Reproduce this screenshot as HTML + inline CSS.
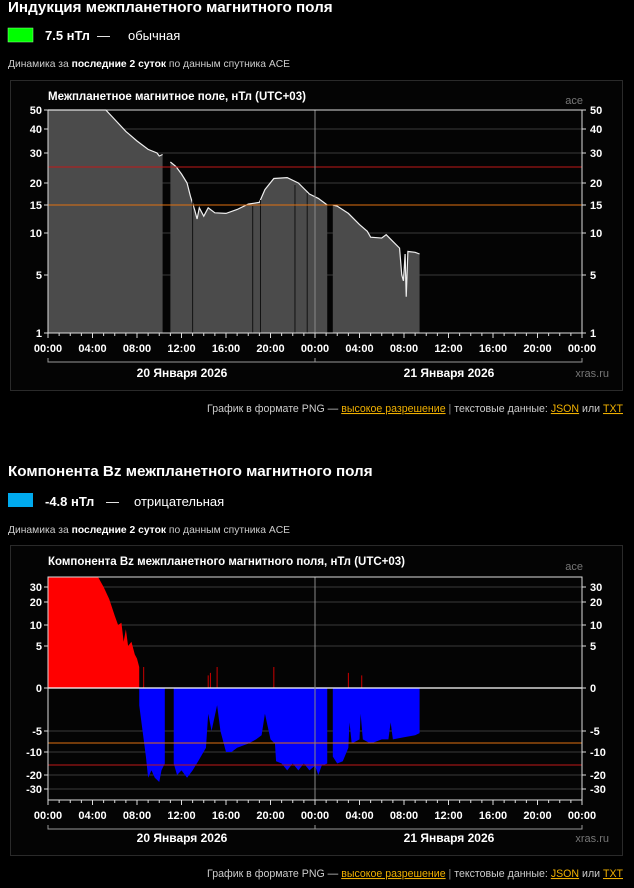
<!DOCTYPE html>
<html><head><meta charset="utf-8">
<style>
html,body{margin:0;padding:0;background:#000;width:634px;height:888px;overflow:hidden;font-family:"Liberation Sans",Arial,sans-serif;color:#fff}
svg{position:absolute;left:0;top:0}
</style></head>
<body>
<svg id="s" width="634" height="888" xmlns="http://www.w3.org/2000/svg" font-family="Liberation Sans, Arial, sans-serif">
<rect width="634" height="888" fill="#000"/>
<text x="8" y="12" font-size="15.2" font-weight="bold" fill="#fff">Индукция межпланетного магнитного поля</text>
<rect x="8" y="28" width="25" height="14" fill="#00ff00" stroke="#9f9" stroke-width="0.5"/>
<text x="45" y="40" font-size="13" font-weight="bold" fill="#fff">7.5 нТл</text>
<text x="97" y="40" font-size="13" fill="#fff">—</text>
<text x="128" y="40" font-size="13" fill="#fff">обычная</text>
<text x="8" y="67" font-size="10.3" fill="#ccc">Динамика за <tspan font-weight="bold" fill="#fff">последние 2 суток</tspan> по данным спутника ACE</text>
<rect x="10.5" y="80.5" width="612" height="310" fill="#040404" stroke="#2a2a2a"/>
<text x="48" y="100" font-size="11.5" font-weight="bold" fill="#fff">Межпланетное магнитное поле, нТл (UTC+03)</text>
<text x="583" y="104" font-size="11" fill="#777" text-anchor="end">ace</text>
<g id="c1"></g>
<text x="182" y="377" font-size="12" font-weight="bold" fill="#fff" text-anchor="middle">20 Января 2026</text>
<text x="449" y="377" font-size="12" font-weight="bold" fill="#fff" text-anchor="middle">21 Января 2026</text>
<text x="609" y="377" font-size="11" fill="#777" text-anchor="end">xras.ru</text>
<text x="623" y="412" font-size="10.6" fill="#ccc" text-anchor="end">График в формате PNG — <tspan fill="#f0b000" text-decoration="underline">высокое разрешение</tspan>   <tspan fill="#888">|</tspan>   текстовые данные: <tspan fill="#f0b000" text-decoration="underline">JSON</tspan> или <tspan fill="#f0b000" text-decoration="underline">TXT</tspan></text>

<text x="8" y="476" font-size="15.2" font-weight="bold" fill="#fff">Компонента Bz межпланетного магнитного поля</text>
<rect x="8" y="493" width="25" height="14" fill="#00aaee"/>
<text x="45" y="506" font-size="13" font-weight="bold" fill="#fff">-4.8 нТл</text>
<text x="106" y="506" font-size="13" fill="#fff">—</text>
<text x="134" y="506" font-size="13" fill="#fff">отрицательная</text>
<text x="8" y="533" font-size="10.3" fill="#ccc">Динамика за <tspan font-weight="bold" fill="#fff">последние 2 суток</tspan> по данным спутника ACE</text>
<rect x="10.5" y="545.5" width="612" height="310" fill="#040404" stroke="#2a2a2a"/>
<text x="48" y="565" font-size="11.5" font-weight="bold" fill="#fff">Компонента Bz межпланетного магнитного поля, нТл (UTC+03)</text>
<text x="583" y="570" font-size="11" fill="#777" text-anchor="end">ace</text>
<g id="c2"></g>
<text x="182" y="842" font-size="12" font-weight="bold" fill="#fff" text-anchor="middle">20 Января 2026</text>
<text x="449" y="842" font-size="12" font-weight="bold" fill="#fff" text-anchor="middle">21 Января 2026</text>
<text x="609" y="842" font-size="11" fill="#777" text-anchor="end">xras.ru</text>
<text x="623" y="877" font-size="10.6" fill="#ccc" text-anchor="end">График в формате PNG — <tspan fill="#f0b000" text-decoration="underline">высокое разрешение</tspan>   <tspan fill="#888">|</tspan>   текстовые данные: <tspan fill="#f0b000" text-decoration="underline">JSON</tspan> или <tspan fill="#f0b000" text-decoration="underline">TXT</tspan></text>

<g font-size="11" font-weight="bold" fill="#fff">
<g text-anchor="end">
<text x="42" y="114">50</text><text x="42" y="133">40</text><text x="42" y="157">30</text><text x="42" y="187">20</text><text x="42" y="209">15</text><text x="42" y="237">10</text><text x="42" y="279">5</text><text x="42" y="337">1</text>
<text x="42" y="591">30</text><text x="42" y="606">20</text><text x="42" y="629">10</text><text x="42" y="650">5</text><text x="42" y="692">0</text><text x="42" y="735">-5</text><text x="42" y="756">-10</text><text x="42" y="779">-20</text><text x="42" y="793">-30</text>
</g>
<g text-anchor="start">
<text x="590" y="114">50</text><text x="590" y="133">40</text><text x="590" y="157">30</text><text x="590" y="187">20</text><text x="590" y="209">15</text><text x="590" y="237">10</text><text x="590" y="279">5</text><text x="590" y="337">1</text>
<text x="590" y="591">30</text><text x="590" y="606">20</text><text x="590" y="629">10</text><text x="590" y="650">5</text><text x="590" y="692">0</text><text x="590" y="735">-5</text><text x="590" y="756">-10</text><text x="590" y="779">-20</text><text x="590" y="793">-30</text>
</g>
<g text-anchor="middle">
<text x="48" y="352">00:00</text><text x="92.5" y="352">04:00</text><text x="137" y="352">08:00</text><text x="181.5" y="352">12:00</text><text x="226" y="352">16:00</text><text x="270.5" y="352">20:00</text><text x="315" y="352">00:00</text><text x="359.5" y="352">04:00</text><text x="404" y="352">08:00</text><text x="448.5" y="352">12:00</text><text x="493" y="352">16:00</text><text x="537.5" y="352">20:00</text><text x="582" y="352">00:00</text>
<text x="48" y="819">00:00</text><text x="92.5" y="819">04:00</text><text x="137" y="819">08:00</text><text x="181.5" y="819">12:00</text><text x="226" y="819">16:00</text><text x="270.5" y="819">20:00</text><text x="315" y="819">00:00</text><text x="359.5" y="819">04:00</text><text x="404" y="819">08:00</text><text x="448.5" y="819">12:00</text><text x="493" y="819">16:00</text><text x="537.5" y="819">20:00</text><text x="582" y="819">00:00</text>
</g>
</g>
</svg>
<script>
var NS="http://www.w3.org/2000/svg";
function el(p,t,a){var e=document.createElementNS(NS,t);for(var k in a)e.setAttribute(k,a[k]);p.appendChild(e);return e;}
function X(h){return 48+h*11.125;}
function interp(tab,v){for(var i=0;i<tab.length-1;i++){var a=tab[i],b=tab[i+1];if(v>=a[0]&&v<=b[0])return a[1]+(v-a[0])/(b[0]-a[0])*(b[1]-a[1]);}return v<tab[0][0]?tab[0][1]:tab[tab.length-1][1];}
var t1=[[1,333],[5,275],[10,233],[15,205],[20,183],[30,153],[40,129],[50,110]];
function Y1(v){return interp(t1,Math.min(50,v));}
var g1=document.getElementById('c1');
[50,40,30,20,15,10,5].forEach(function(v){el(g1,'line',{x1:48,x2:582,y1:Y1(v),y2:Y1(v),stroke:'#3a3a3a','stroke-width':1});});
var segs1=[
[[0,50],[5.2,50],[6,45],[7,39],[8,35],[9,31.5],[9.8,30],[10,29],[10.3,29.5]],
[[11.0,27],[11.5,25.5],[12,23],[12.5,20],[12.8,17],[13.2,14],[13.4,12.5],[13.6,14.5],[14,13],[14.4,14.5],[15,13.6],[16,13.5],[17,14.2],[18,15.2],[19,15.6],[19.5,18.5],[20.3,21.5],[21.5,21.8],[22.5,20],[23.5,17.5],[24.3,16.5],[25.1,15]],
[[25.6,15],[26,14.8],[27,13.5],[28,11.5],[28.7,10.3],[29,9.5],[30,9.4],[30.4,9.8],[31,9],[31.6,8.2],[31.8,5],[31.95,4.6],[32.1,7.5],[32.2,3.5],[32.35,7.8],[33,7.7],[33.4,7.5]]
];
segs1.forEach(function(s){
 var d='M'+X(s[0][0])+',333';var l='';
 s.forEach(function(p,i){d+=' L'+X(p[0])+','+Y1(p[1]);l+=(i?' L':'M')+X(p[0])+','+Y1(p[1]);});
 d+=' L'+X(s[s.length-1][0])+',333 Z';
 el(g1,'path',{d:d,fill:'#4b4b4b'});
 el(g1,'path',{d:l,fill:'none',stroke:'#eee','stroke-width':1.2});
});
[[13.0,199],[18.4,206],[19.1,200],[22.2,185],[23.3,193]].forEach(function(p){el(g1,'line',{x1:X(p[0]),x2:X(p[0]),y1:p[1],y2:333,stroke:'#111','stroke-width':1});});
el(g1,'line',{x1:48,x2:582,y1:167,y2:167,stroke:'#c01818','stroke-width':1});
el(g1,'line',{x1:48,x2:582,y1:205,y2:205,stroke:'#e07010','stroke-width':1});
el(g1,'line',{x1:315,x2:315,y1:110,y2:333,stroke:'#888','stroke-width':1});
el(g1,'rect',{x:48,y:110,width:534,height:223,fill:'none',stroke:'#ddd','stroke-width':1});
for(var h=0;h<=48;h++){el(g1,'line',{x1:X(h),x2:X(h),y1:333,y2:h%4?336:338,stroke:'#ddd'});}
t1.forEach(function(p){el(g1,'line',{x1:44,x2:48,y1:p[1],y2:p[1],stroke:'#ddd'});el(g1,'line',{x1:582,x2:586,y1:p[1],y2:p[1],stroke:'#ddd'});});
el(g1,'path',{d:'M48,358 V362 H582 V358 M315,362 V358',fill:'none',stroke:'#999'});
var t2=[[-35,800],[-30,789],[-20,775],[-10,752],[-5,731],[0,688],[5,646],[10,625],[20,602],[30,587],[35,577]];
function Y2(v){return interp(t2,Math.max(-35,Math.min(35,v)));}
var g2=document.getElementById('c2');
[30,20,10,5,-5,-10,-20,-30].forEach(function(v){el(g2,'line',{x1:48,x2:582,y1:Y2(v),y2:Y2(v),stroke:'#3a3a3a'});});
var red=[[0,40],[4.5,40],[5,30],[5.5,22],[6,14],[6.3,10],[6.6,11],[6.8,6],[7,9],[7.2,5],[7.5,6],[7.8,4],[8,3.5],[8.2,2.5]];
var d='M48,688';red.forEach(function(p){d+=' L'+X(p[0])+','+Y2(p[1]);});d+=' L'+X(8.2)+',688 Z';
el(g2,'path',{d:d,fill:'#ff0000'});
[[8.6,2.5],[14.4,1.5],[14.6,1.8],[15.2,2.5],[20.3,2.5],[27,1.8],[28.2,1.5]].forEach(function(p){el(g2,'line',{x1:X(p[0]),x2:X(p[0]),y1:688,y2:Y2(p[1]),stroke:'#c00','stroke-width':1});});
var blue=[
[[8.2,-2],[8.5,-5],[8.8,-12],[9,-22],[9.3,-18],[9.6,-22],[10,-25],[10.2,-18],[10.5,-15]],
[[11.3,-15],[11.6,-20],[12,-18],[12.5,-22],[13,-18],[13.5,-14],[14.2,-9],[14.4,-3],[14.7,-5],[15.2,-2],[15.5,-5],[16,-10],[16.5,-10],[17,-9],[18,-8],[18.7,-7],[19.2,-6],[19.5,-3],[20,-7],[20.4,-8],[20.5,-14],[21,-15],[21.5,-18],[22,-15],[22.5,-18],[23,-15],[23.5,-18],[24,-16],[24.3,-20],[24.6,-16],[25.1,-15]],
[[25.6,-12],[26,-15],[26.5,-14],[27,-9],[27.1,-4],[27.3,-8],[28,-7],[28.1,-3],[28.3,-7],[29,-8],[30,-7],[30.6,-7],[30.8,-4],[31,-7],[32,-6.5],[33,-6],[33.4,-5.5]]
];
blue.forEach(function(s){var d='M'+X(s[0][0])+',688';s.forEach(function(p){d+=' L'+X(p[0])+','+Y2(p[1]);});d+=' L'+X(s[s.length-1][0])+',688 Z';el(g2,'path',{d:d,fill:'#0000ff'});});
el(g2,'line',{x1:48,x2:582,y1:743,y2:743,stroke:'#e07010'});
el(g2,'line',{x1:48,x2:582,y1:765,y2:765,stroke:'#c01818'});
el(g2,'line',{x1:48,x2:582,y1:688,y2:688,stroke:'#fff','stroke-width':1.3});
el(g2,'line',{x1:315,x2:315,y1:577,y2:800,stroke:'#888'});
el(g2,'rect',{x:48,y:577,width:534,height:223,fill:'none',stroke:'#ddd'});
for(var h=0;h<=48;h++){el(g2,'line',{x1:X(h),x2:X(h),y1:800,y2:h%4?803:805,stroke:'#ddd'});}
[30,20,10,5,0,-5,-10,-20,-30].forEach(function(v){el(g2,'line',{x1:44,x2:48,y1:Y2(v),y2:Y2(v),stroke:'#ddd'});el(g2,'line',{x1:582,x2:586,y1:Y2(v),y2:Y2(v),stroke:'#ddd'});});
el(g2,'path',{d:'M48,825 V829 H582 V825 M315,829 V825',fill:'none',stroke:'#999'});
</script>
</body></html>
